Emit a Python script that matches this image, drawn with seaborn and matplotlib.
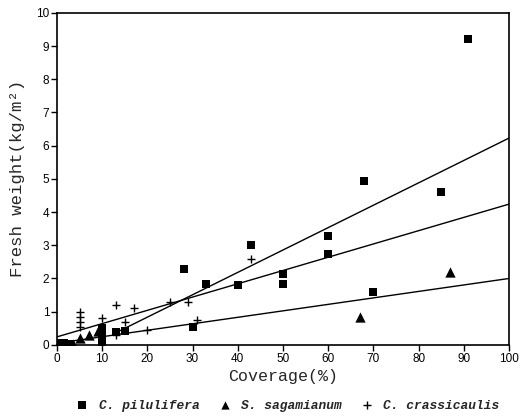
import matplotlib
matplotlib.use("Agg")
import matplotlib.pyplot as plt
import seaborn as sns
import pandas as pd

# C. pilulifera (squares)
pil_x = [0.5, 1.5, 3.0, 10, 10, 10, 10, 13, 15, 28, 30, 33, 40, 43, 50, 50, 60, 60, 68, 70, 85, 91]
pil_y = [0.05, 0.05, 0.04, 0.5, 0.35, 0.2, 0.08, 0.38, 0.42, 2.3, 0.55, 1.82, 1.8, 3.0, 2.12, 1.82, 3.27, 2.75, 4.95, 1.6, 4.6, 9.2]
# S. sagamianum (triangles)
sag_x = [2, 3.5, 5, 7, 9, 67, 87]
sag_y = [0.02, 0.02, 0.2, 0.3, 0.42, 0.85, 2.2]
# C. crassicaulis (plus)
cra_x = [5, 5, 5, 5, 10, 13, 13, 15, 17, 20, 25, 29, 31, 43]
cra_y = [1.0, 0.85, 0.7, 0.55, 0.81, 1.2, 0.3, 0.69, 1.1, 0.44, 1.29, 1.29, 0.75, 2.58]

# fitted regression lines (endpoints)
fit1_x = [14, 100]
fit1_y = [0.43, 6.23]
fit2_x = [0, 100]
fit2_y = [0.24, 4.24]
fit3_x = [0, 100]
fit3_y = [0.05, 2.0]

x_ticks = list(range(0, 101, 10))
y_ticks = list(range(0, 11))

sns.set_theme(style="ticks")
plt.rcParams["font.family"] = ["Liberation Sans", "DejaVu Sans"]

fig = plt.figure(figsize=(5.27, 4.16), dpi=100)
ax = fig.add_axes([0.108, 0.171, 0.858, 0.798])

for fx, fy in [(fit1_x, fit1_y), (fit2_x, fit2_y), (fit3_x, fit3_y)]:
    sns.lineplot(x=fx, y=fy, ax=ax, color="black", linewidth=1.0, legend=False)

sns.scatterplot(x=pil_x, y=pil_y, ax=ax, marker="s", s=40, color="black",
                edgecolor="black", linewidth=0, label="C. pilulifera", zorder=3)
sns.scatterplot(x=sag_x, y=sag_y, ax=ax, marker="^", s=55, color="black",
                edgecolor="black", linewidth=0, label="S. sagamianum", zorder=3)
sns.scatterplot(x=cra_x, y=cra_y, ax=ax, marker="+", s=40, color="black",
                linewidth=1.0, label="C. crassicaulis", zorder=3)

ax.set_xlim(0, 100)
ax.set_ylim(0, 10)
ax.set_xticks(x_ticks)
ax.set_yticks(y_ticks)
ax.tick_params(axis="both", direction="out", length=4, width=1, labelsize=8.5,
               colors="black", pad=1.5)
for sp in ax.spines.values():
    sp.set_visible(True)
    sp.set_color("black")
    sp.set_linewidth(1.2)

ax.set_xlabel("Coverage(%)", fontsize=12, family=["Liberation Mono", "DejaVu Sans Mono"], labelpad=3)
ax.set_ylabel("Fresh weight(kg/m²)", fontsize=12.5, family=["Liberation Mono", "DejaVu Sans Mono"], labelpad=8)

handles, labels = ax.get_legend_handles_labels()
ax.legend_.remove()
fig.legend(handles, labels, loc="lower center", bbox_to_anchor=(0.54, -0.018), ncol=3,
           frameon=False, handletextpad=0.3, columnspacing=0.9, markerscale=0.8,
           prop={"family": "Liberation Mono", "weight": "bold", "style": "italic", "size": 9.3})

fig.savefig("out.png", dpi=100)
